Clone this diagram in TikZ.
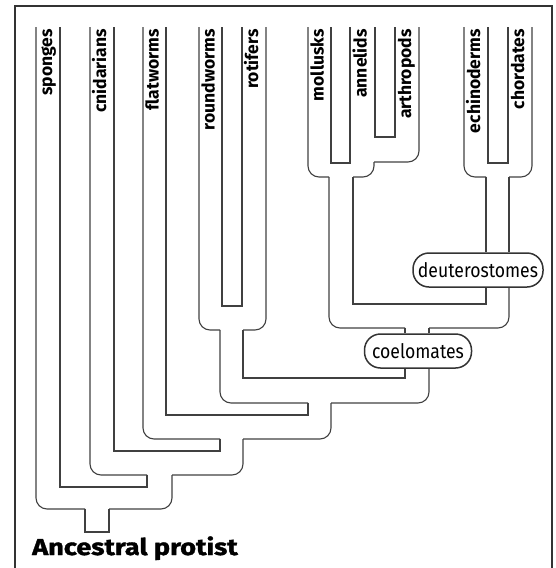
\documentclass[tikz,border=0pt]{standalone}
\usepackage{fontspec}
\setmainfont{Fira Sans}
\newfontfamily\condfont[FakeStretch=0.88]{Fira Sans}
\newfontfamily\labfont{Fira Sans}
\newfontfamily\heavyfont[BoldFeatures={FakeBold=1.5, FakeStretch=1.18}]{Fira Sans}
\definecolor{tubecol}{gray}{0.25}
\definecolor{framecol}{gray}{0.2}
\begin{document}
\begin{tikzpicture}[x=1pt,y=-1pt,
  tube/.style={draw=tubecol, line width=1.1pt},
  rc/.style={tube, rounded corners=11pt},
  lab/.style={font=\labfont\bfseries\fontsize{17.5}{17.5}\selectfont, rotate=90, anchor=east, inner sep=0pt, text height=12pt, text depth=4pt},
  clade/.style={draw=framecol, line width=1.5pt, rounded corners=16pt, fill=white, font=\condfont\fontsize{20}{20}\selectfont, inner sep=0pt, minimum height=34pt, align=center}]
\useasboundingbox (0,0) rectangle (556,568);
% frame
\draw[line width=2.6pt, draw=framecol] (15,590) -- (15,6) -- (552,6) -- (552,590);
% clade nodes
\node[clade, minimum width=130pt] (deut) at (478,270) {deuterostomes};
\node[clade, minimum width=107pt] (coel) at (418,351) {coelomates};
% helper x positions
\coordinate (x405) at (405,0);
\coordinate (x429) at (429,0);
\coordinate (x486) at (486,0);
\coordinate (x509) at (509,0);
% outer path sponges -> root -> coelomates
\draw[rc] (36,27) -- (36,509) -- (85,509);
\draw[tube] (85,509) -- (85,532) -- (109,532) -- (109,509);
\draw[rc] (109,509) -- (172,509) -- (172,475);
\draw[rc] (172,475) -- (243,475) -- (243,439);
\draw[rc] (243,439) -- (331,439) -- (331,403);
\draw[rc] (331,403) -- (429,403) -- (x429 |- coel.south);
% sponges right / cnidarians left
\draw[tube] (60,27) -- (60,487) -- (147,487) -- (147,475);
\draw[rc] (147,475) -- (90,475) -- (90,27);
% cnidarians right / flatworms left
\draw[tube] (114,27) -- (114,451) -- (220,451) -- (220,439);
\draw[rc] (220,439) -- (143,439) -- (143,27);
% flatworms right / roundworms left
\draw[tube] (166,27) -- (166,415) -- (308,415) -- (308,403);
\draw[rc] (308,403) -- (220,403) -- (220,330);
\draw[rc] (220,330) -- (199,330) -- (199,27);
% roundworms right / rotifers left
\draw[tube] (222,27) -- (222,306) -- (242,306) -- (242,27);
% rotifers right
\draw[rc] (266,27) -- (266,330) -- (243,330);
\draw[tube] (243,330) -- (243,378) -- (405,378) -- (x405 |- coel.south);
% coelomate stem upward
\draw[tube] (x405 |- coel.north) -- (405,328);
\draw[rc] (405,328) -- (329,328) -- (329,177);
\draw[rc] (329,177) -- (308,177) -- (308,27);
\draw[tube] (x429 |- coel.north) -- (429,328);
\draw[rc] (429,328) -- (509,328) -- (x509 |- deut.south);
% protostome stem right / deuterostome stem left
\draw[tube] (353,177) -- (353,304) -- (486,304) -- (x486 |- deut.south);
\draw[rc] (353,177) -- (374,177) -- (374,162);
\draw[rc] (374,162) -- (419,162) -- (419,27);
% mollusks right / annelids left
\draw[tube] (331,27) -- (331,163) -- (350,163) -- (350,27);
% annelids right / arthropods left
\draw[tube] (375,27) -- (375,137) -- (395,137) -- (395,27);
% deuterostomes
\draw[rc] (464,27) -- (464,177) -- (486,177);
\draw[tube] (486,177) -- (x486 |- deut.north);
\draw[rc] (532,27) -- (532,177) -- (509,177);
\draw[tube] (509,177) -- (x509 |- deut.north);
\draw[tube] (488,27) -- (488,163) -- (508,163) -- (508,27);
% labels
\node[lab] (l1) at (48,29) {sponges};
\node[lab] (l2) at (102,29) {cnidarians};
\node[lab] (l3) at (154.5,29) {flatworms};
\node[lab] (l4) at (210.5,29) {roundworms};
\node[lab] (l5) at (254,29) {rotifers};
\node[lab] (l6) at (319.5,29) {mollusks};
\node[lab] (l7) at (362.5,29) {annelids};
\node[lab] (l8) at (407,29) {arthropods};
\node[lab] (l9) at (476,29) {echinoderms};
\node[lab] (l10) at (520,29) {chordates};
\node[font=\heavyfont\bfseries\fontsize{23}{23}\selectfont, anchor=base west, inner sep=0pt] (anc) at (32,555) {Ancestral protist};
\end{tikzpicture}
\end{document}
